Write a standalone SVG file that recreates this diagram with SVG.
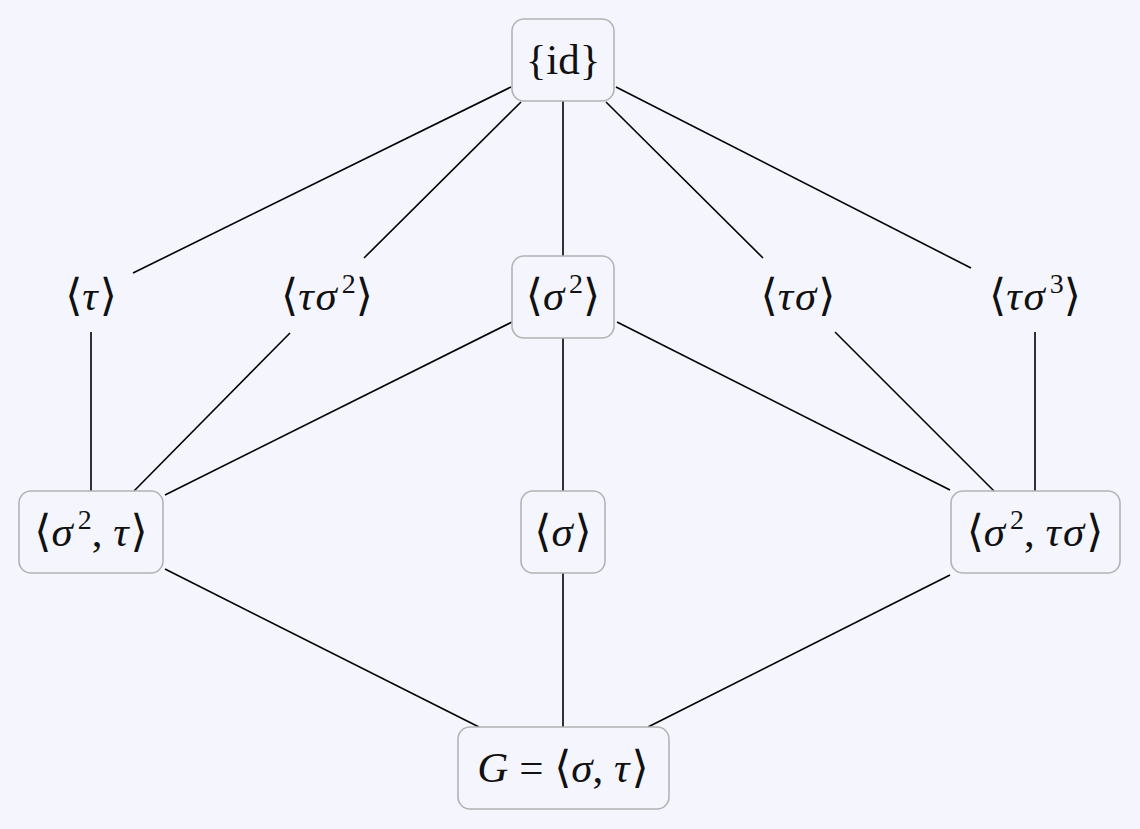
<svg xmlns="http://www.w3.org/2000/svg" width="1140" height="829" viewBox="0 0 1140 829">
<style>
.bg{fill:#f5f6fd}
.box{fill:#f5f6fd;stroke:#b3b3b3;stroke-width:1.6}
.lbl{font-family:"Liberation Serif","DejaVu Serif",serif;font-size:43px;fill:#111;text-anchor:middle}
.i{font-style:italic}
.b{font-family:"DejaVu Sans","DejaVu Serif",sans-serif;font-size:44px;font-weight:200}
.sup{font-size:28px}
.edge{stroke:#000;stroke-width:1.6;fill:none}
</style>
<rect class="bg" x="0" y="0" width="1140" height="829"/>
<g id="connectors">
<line class="edge" x1="511" y1="87" x2="133" y2="273"/>
<line class="edge" x1="521" y1="102" x2="364" y2="258"/>
<line class="edge" x1="563" y1="101" x2="563" y2="256"/>
<line class="edge" x1="606" y1="102" x2="763" y2="258"/>
<line class="edge" x1="616" y1="87" x2="971" y2="268"/>
<line class="edge" x1="91" y1="332" x2="91" y2="491"/>
<line class="edge" x1="290" y1="333" x2="134" y2="491"/>
<line class="edge" x1="512" y1="322" x2="165" y2="495"/>
<line class="edge" x1="563" y1="338" x2="563" y2="491"/>
<line class="edge" x1="617" y1="322" x2="950" y2="490"/>
<line class="edge" x1="835" y1="332" x2="994" y2="491"/>
<line class="edge" x1="1035" y1="332" x2="1035" y2="491"/>
<line class="edge" x1="165" y1="569" x2="479" y2="727"/>
<line class="edge" x1="563" y1="573" x2="563" y2="727"/>
<line class="edge" x1="950" y1="575" x2="648" y2="727"/>
</g>
<g id="n-id">
<rect class="box" x="512" y="19" width="102" height="82" rx="12"/>
<text class="lbl" x="563" y="74">{id}</text>
</g>
<g id="n-tau">
<text class="lbl" x="91" y="310"><tspan class="b">⟨</tspan><tspan class="i">τ</tspan><tspan class="b" dx="2">⟩</tspan></text>
</g>
<g id="n-tausigma2">
<text class="lbl" x="327" y="310"><tspan class="b">⟨</tspan><tspan class="i">τ</tspan><tspan class="i" dx="2">σ</tspan><tspan class="sup" dx="5" dy="-17">2</tspan><tspan class="b" dy="17">⟩</tspan></text>
</g>
<g id="n-sigma2">
<rect class="box" x="512" y="256" width="102" height="82" rx="12"/>
<text class="lbl" x="563" y="310"><tspan class="b">⟨</tspan><tspan class="i">σ</tspan><tspan class="sup" dx="5" dy="-17">2</tspan><tspan class="b" dy="17">⟩</tspan></text>
</g>
<g id="n-tausigma">
<text class="lbl" x="798" y="310"><tspan class="b">⟨</tspan><tspan class="i">τ</tspan><tspan class="i" dx="2">σ</tspan><tspan class="b" dx="2">⟩</tspan></text>
</g>
<g id="n-tausigma3">
<text class="lbl" x="1035" y="310"><tspan class="b">⟨</tspan><tspan class="i">τ</tspan><tspan class="i" dx="2">σ</tspan><tspan class="sup" dx="5" dy="-17">3</tspan><tspan class="b" dy="17">⟩</tspan></text>
</g>
<g id="n-sigma2-tau">
<rect class="box" x="19" y="491" width="144" height="82" rx="12"/>
<text class="lbl" x="91" y="546"><tspan class="b">⟨</tspan><tspan class="i">σ</tspan><tspan class="sup" dx="5" dy="-17">2</tspan><tspan dy="17">, </tspan><tspan class="i">τ</tspan><tspan class="b" dx="2">⟩</tspan></text>
</g>
<g id="n-sigma">
<rect class="box" x="521" y="491" width="84" height="82" rx="12"/>
<text class="lbl" x="563" y="546"><tspan class="b">⟨</tspan><tspan class="i">σ</tspan><tspan class="b" dx="2">⟩</tspan></text>
</g>
<g id="n-sigma2-tausigma">
<rect class="box" x="951" y="491" width="169" height="82" rx="12"/>
<text class="lbl" x="1035" y="546"><tspan class="b">⟨</tspan><tspan class="i">σ</tspan><tspan class="sup" dx="5" dy="-17">2</tspan><tspan dy="17">, </tspan><tspan class="i">τ</tspan><tspan class="i" dx="2">σ</tspan><tspan class="b" dx="2">⟩</tspan></text>
</g>
<g id="n-G">
<rect class="box" x="458" y="727" width="211" height="82" rx="12"/>
<text class="lbl" x="563" y="782"><tspan class="i">G</tspan> = <tspan class="b">⟨</tspan><tspan class="i">σ</tspan>, <tspan class="i">τ</tspan><tspan class="b" dx="2">⟩</tspan></text>
</g>
</svg>
